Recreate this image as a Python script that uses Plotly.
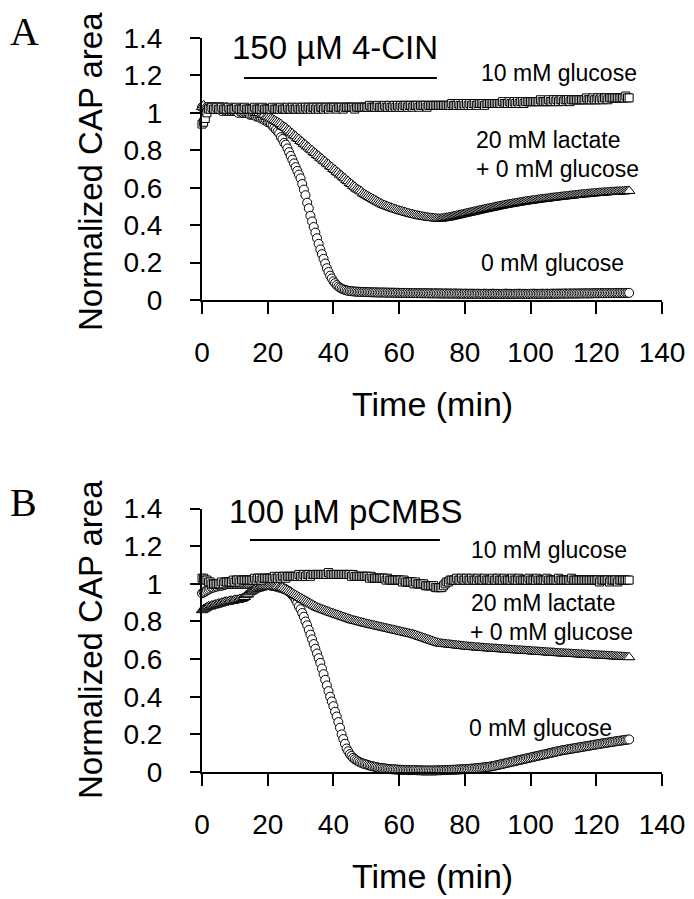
import plotly.graph_objects as go

# ---------------- data (normalized CAP area, sampled every 0.5 min) ----------------
time_min = [i * 0.5 for i in range(261)]  # 0 ... 130 min

# Panel A: 150 uM 4-CIN
glucose10_a = [
    0.94, 0.95, 0.97, 1.00, 1.02, 1.02, 1.03, 1.02, 1.02, 1.03,
    1.02, 1.02, 1.03, 1.02, 1.02, 1.02, 1.03, 1.02, 1.02, 1.02,
    1.02, 1.03, 1.02, 1.02, 1.02, 1.02, 1.03, 1.02, 1.02, 1.02,
    1.02, 1.02, 1.03, 1.02, 1.02, 1.02, 1.02, 1.03, 1.02, 1.02,
    1.02, 1.02, 1.02, 1.03, 1.02, 1.02, 1.02, 1.02, 1.03, 1.02,
    1.02, 1.02, 1.03, 1.02, 1.02, 1.03, 1.02, 1.02, 1.03, 1.02,
    1.02, 1.03, 1.02, 1.03, 1.02, 1.03, 1.02, 1.03, 1.03, 1.02,
    1.03, 1.02, 1.03, 1.03, 1.02, 1.03, 1.03, 1.02, 1.03, 1.03,
    1.03, 1.03, 1.02, 1.03, 1.03, 1.03, 1.02, 1.03, 1.03, 1.03,
    1.03, 1.03, 1.03, 1.02, 1.03, 1.03, 1.03, 1.03, 1.03, 1.03,
    1.03, 1.03, 1.04, 1.03, 1.03, 1.03, 1.03, 1.04, 1.03, 1.03,
    1.03, 1.04, 1.03, 1.03, 1.04, 1.03, 1.03, 1.04, 1.03, 1.04,
    1.03, 1.04, 1.03, 1.04, 1.04, 1.03, 1.04, 1.04, 1.03, 1.04,
    1.04, 1.04, 1.03, 1.04, 1.04, 1.04, 1.04, 1.03, 1.04, 1.04,
    1.04, 1.04, 1.04, 1.04, 1.04, 1.04, 1.04, 1.04, 1.04, 1.04,
    1.04, 1.04, 1.05, 1.04, 1.04, 1.04, 1.05, 1.04, 1.04, 1.05,
    1.04, 1.05, 1.04, 1.05, 1.04, 1.05, 1.05, 1.04, 1.05, 1.05,
    1.05, 1.05, 1.04, 1.05, 1.05, 1.05, 1.05, 1.05, 1.05, 1.05,
    1.05, 1.05, 1.05, 1.06, 1.05, 1.05, 1.05, 1.06, 1.05, 1.05,
    1.06, 1.05, 1.06, 1.05, 1.06, 1.06, 1.05, 1.06, 1.06, 1.06,
    1.06, 1.06, 1.06, 1.06, 1.06, 1.06, 1.07, 1.06, 1.06, 1.06,
    1.06, 1.07, 1.06, 1.06, 1.07, 1.06, 1.07, 1.06, 1.07, 1.07,
    1.06, 1.07, 1.07, 1.07, 1.06, 1.07, 1.07, 1.07, 1.07, 1.07,
    1.07, 1.07, 1.07, 1.07, 1.08, 1.07, 1.07, 1.07, 1.08, 1.07,
    1.07, 1.08, 1.07, 1.08, 1.07, 1.08, 1.08, 1.07, 1.08, 1.08,
    1.08, 1.08, 1.08, 1.08, 1.08, 1.08, 1.08, 1.08, 1.09, 1.08,
    1.08,
]

glucose0_a = [
    1.03, 1.03, 1.03, 1.02, 1.03, 1.02, 1.02, 1.02, 1.02, 1.02,
    1.02, 1.02, 1.01, 1.02, 1.01, 1.01, 1.01, 1.01, 1.01, 1.01,
    1.01, 1.01, 1.00, 1.01, 1.00, 1.00, 1.00, 1.00, 1.00, 0.99,
    0.99, 0.99, 0.99, 0.98, 0.98, 0.98, 0.97, 0.97, 0.96, 0.96,
    0.95, 0.95, 0.94, 0.93, 0.92, 0.91, 0.90, 0.89, 0.87, 0.86,
    0.84, 0.83, 0.81, 0.79, 0.77, 0.75, 0.73, 0.71, 0.69, 0.67,
    0.65, 0.62, 0.59, 0.56, 0.52, 0.49, 0.45, 0.42, 0.39, 0.36,
    0.33, 0.30, 0.27, 0.245, 0.22, 0.195, 0.17, 0.15, 0.13, 0.115,
    0.10, 0.09, 0.08, 0.072, 0.066, 0.061, 0.057, 0.054, 0.051, 0.049,
    0.048, 0.047, 0.046, 0.045, 0.045, 0.044, 0.044, 0.043, 0.043, 0.043,
    0.042, 0.042, 0.042, 0.041, 0.041, 0.041, 0.041, 0.040, 0.040, 0.040,
    0.040, 0.040, 0.039, 0.040, 0.039, 0.039, 0.039, 0.039, 0.038, 0.039,
    0.038, 0.038, 0.038, 0.038, 0.037, 0.038, 0.037, 0.037, 0.037, 0.037,
    0.037, 0.036, 0.037, 0.036, 0.036, 0.036, 0.036, 0.036, 0.035, 0.036,
    0.035, 0.035, 0.036, 0.035, 0.035, 0.035, 0.035, 0.034, 0.035, 0.035,
    0.034, 0.035, 0.034, 0.034, 0.035, 0.034, 0.034, 0.034, 0.034, 0.033,
    0.034, 0.034, 0.033, 0.034, 0.033, 0.034, 0.033, 0.033, 0.034, 0.033,
    0.033, 0.033, 0.034, 0.033, 0.033, 0.033, 0.033, 0.034, 0.033, 0.033,
    0.033, 0.033, 0.032, 0.033, 0.033, 0.034, 0.033, 0.033, 0.033, 0.032,
    0.033, 0.033, 0.033, 0.034, 0.033, 0.033, 0.033, 0.033, 0.032, 0.033,
    0.033, 0.033, 0.034, 0.033, 0.033, 0.033, 0.033, 0.034, 0.033, 0.033,
    0.034, 0.033, 0.033, 0.034, 0.034, 0.033, 0.034, 0.034, 0.034, 0.034,
    0.034, 0.035, 0.034, 0.034, 0.035, 0.034, 0.035, 0.035, 0.034, 0.035,
    0.035, 0.035, 0.035, 0.036, 0.035, 0.035, 0.036, 0.035, 0.036, 0.036,
    0.036, 0.036, 0.036, 0.037, 0.036, 0.036, 0.037, 0.037, 0.036, 0.037,
    0.037, 0.037, 0.038, 0.037, 0.037, 0.038, 0.038, 0.037, 0.038, 0.038,
    0.038,
]

lactate20_a = [
    1.03, 1.04, 1.03, 1.03, 1.03, 1.03, 1.03, 1.03, 1.03, 1.03,
    1.03, 1.03, 1.03, 1.03, 1.02, 1.03, 1.02, 1.02, 1.02, 1.02,
    1.02, 1.02, 1.02, 1.02, 1.02, 1.01, 1.02, 1.01, 1.01, 1.01,
    1.01, 1.01, 1.01, 1.00, 1.00, 1.00, 0.99, 0.99, 0.99, 0.98,
    0.98, 0.975, 0.97, 0.965, 0.96, 0.955, 0.95, 0.945, 0.94, 0.93,
    0.925, 0.92, 0.91, 0.905, 0.895, 0.89, 0.88, 0.875, 0.865, 0.86,
    0.85, 0.845, 0.835, 0.83, 0.82, 0.815, 0.805, 0.80, 0.79, 0.785,
    0.775, 0.77, 0.76, 0.755, 0.745, 0.74, 0.73, 0.725, 0.715, 0.71,
    0.70, 0.695, 0.685, 0.68, 0.67, 0.665, 0.655, 0.65, 0.64, 0.635,
    0.625, 0.62, 0.61, 0.605, 0.595, 0.59, 0.585, 0.58, 0.57, 0.565,
    0.56, 0.555, 0.55, 0.545, 0.54, 0.535, 0.53, 0.525, 0.52, 0.515,
    0.51, 0.507, 0.503, 0.50, 0.497, 0.493, 0.49, 0.487, 0.484, 0.481,
    0.478, 0.475, 0.473, 0.47, 0.468, 0.465, 0.463, 0.46, 0.458, 0.456,
    0.454, 0.452, 0.45, 0.448, 0.446, 0.445, 0.443, 0.442, 0.44, 0.439,
    0.438, 0.437, 0.436, 0.435, 0.435, 0.434, 0.436, 0.437, 0.438, 0.44,
    0.441, 0.443, 0.445, 0.447, 0.449, 0.451, 0.453, 0.455, 0.457, 0.459,
    0.461, 0.463, 0.465, 0.467, 0.469, 0.471, 0.473, 0.475, 0.477, 0.479,
    0.481, 0.483, 0.485, 0.487, 0.489, 0.49, 0.492, 0.494, 0.496, 0.498,
    0.50, 0.502, 0.503, 0.505, 0.507, 0.508, 0.51, 0.512, 0.513, 0.515,
    0.516, 0.518, 0.519, 0.521, 0.522, 0.524, 0.525, 0.527, 0.528, 0.529,
    0.53, 0.532, 0.533, 0.534, 0.535, 0.537, 0.538, 0.539, 0.54, 0.541,
    0.542, 0.543, 0.545, 0.546, 0.547, 0.548, 0.549, 0.55, 0.551, 0.552,
    0.553, 0.554, 0.555, 0.556, 0.557, 0.558, 0.559, 0.56, 0.561, 0.562,
    0.563, 0.564, 0.565, 0.565, 0.566, 0.567, 0.568, 0.569, 0.57, 0.57,
    0.571, 0.572, 0.573, 0.573, 0.574, 0.575, 0.575, 0.576, 0.577, 0.577,
    0.578, 0.578, 0.579, 0.579, 0.58, 0.58, 0.581, 0.581, 0.582, 0.582,
    0.583,
]

# Panel B: 100 uM pCMBS
glucose10_b = [
    1.03, 1.03, 1.02, 1.02, 1.01, 1.01, 1.00, 1.00, 1.00, 1.00,
    1.00, 1.00, 1.01, 1.00, 1.01, 1.01, 1.01, 1.01, 1.01, 1.02,
    1.01, 1.02, 1.02, 1.01, 1.02, 1.02, 1.02, 1.02, 1.02, 1.02,
    1.02, 1.02, 1.03, 1.02, 1.03, 1.03, 1.02, 1.03, 1.03, 1.03,
    1.03, 1.03, 1.03, 1.03, 1.04, 1.03, 1.03, 1.04, 1.03, 1.04,
    1.04, 1.03, 1.04, 1.04, 1.04, 1.04, 1.04, 1.04, 1.04, 1.05,
    1.04, 1.04, 1.05, 1.04, 1.05, 1.05, 1.04, 1.05, 1.05, 1.05,
    1.05, 1.05, 1.05, 1.05, 1.05, 1.05, 1.05, 1.06, 1.05, 1.05,
    1.05, 1.05, 1.05, 1.05, 1.05, 1.05, 1.05, 1.05, 1.05, 1.05,
    1.05, 1.04, 1.05, 1.04, 1.04, 1.04, 1.04, 1.04, 1.04, 1.04,
    1.04, 1.04, 1.03, 1.04, 1.03, 1.03, 1.03, 1.03, 1.03, 1.03,
    1.03, 1.03, 1.02, 1.03, 1.02, 1.02, 1.02, 1.02, 1.02, 1.02,
    1.02, 1.02, 1.01, 1.02, 1.01, 1.01, 1.01, 1.01, 1.01, 1.00,
    1.01, 1.00, 1.00, 1.00, 1.00, 1.00, 0.99, 0.99, 0.99, 0.99,
    0.99, 0.99, 0.98, 0.98, 0.98, 0.98, 0.98, 0.99, 1.00, 1.01,
    1.01, 1.02, 1.02, 1.02, 1.02, 1.03, 1.02, 1.02, 1.03, 1.02,
    1.02, 1.03, 1.02, 1.02, 1.03, 1.02, 1.02, 1.02, 1.03, 1.02,
    1.02, 1.02, 1.03, 1.02, 1.02, 1.02, 1.02, 1.03, 1.02, 1.02,
    1.03, 1.02, 1.02, 1.02, 1.03, 1.02, 1.02, 1.02, 1.02, 1.03,
    1.02, 1.02, 1.02, 1.03, 1.02, 1.02, 1.02, 1.02, 1.02, 1.03,
    1.02, 1.02, 1.02, 1.02, 1.03, 1.02, 1.02, 1.02, 1.02, 1.02,
    1.03, 1.02, 1.02, 1.02, 1.02, 1.02, 1.02, 1.03, 1.02, 1.02,
    1.02, 1.02, 1.02, 1.02, 1.02, 1.03, 1.02, 1.02, 1.02, 1.02,
    1.02, 1.02, 1.02, 1.02, 1.02, 1.02, 1.02, 1.02, 1.02, 1.02,
    1.02, 1.02, 1.01, 1.02, 1.02, 1.02, 1.02, 1.02, 1.01, 1.02,
    1.02, 1.02, 1.02, 1.01, 1.02, 1.02, 1.02, 1.02, 1.02, 1.02,
    1.02,
]

glucose0_b = [
    0.95, 0.955, 0.96, 0.965, 0.97, 0.975, 0.98, 0.98, 0.985, 0.985,
    0.99, 0.99, 0.99, 0.995, 0.995, 1.00, 1.00, 1.00, 1.00, 1.00,
    1.00, 1.00, 1.00, 1.00, 1.00, 1.00, 1.00, 1.00, 1.00, 1.00,
    1.00, 1.00, 1.00, 1.00, 1.00, 1.00, 1.00, 1.00, 1.00, 0.995,
    0.995, 0.995, 0.99, 0.99, 0.99, 0.985, 0.985, 0.98, 0.98, 0.975,
    0.975, 0.97, 0.965, 0.96, 0.95, 0.94, 0.93, 0.915, 0.90, 0.88,
    0.865, 0.845, 0.825, 0.80, 0.78, 0.755, 0.73, 0.705, 0.68, 0.655,
    0.63, 0.605, 0.58, 0.55, 0.52, 0.49, 0.46, 0.43, 0.40, 0.375,
    0.35, 0.32, 0.295, 0.265, 0.235, 0.20, 0.175, 0.15, 0.125, 0.11,
    0.095, 0.085, 0.075, 0.068, 0.062, 0.057, 0.052, 0.048, 0.045, 0.042,
    0.04, 0.037, 0.034, 0.032, 0.03, 0.028, 0.026, 0.024, 0.022, 0.021,
    0.02, 0.019, 0.018, 0.017, 0.016, 0.015, 0.014, 0.014, 0.013, 0.013,
    0.012, 0.012, 0.011, 0.011, 0.011, 0.010, 0.010, 0.010, 0.010, 0.010,
    0.010, 0.009, 0.009, 0.009, 0.008, 0.008, 0.008, 0.008, 0.008, 0.008,
    0.008, 0.008, 0.008, 0.009, 0.009, 0.009, 0.010, 0.010, 0.010, 0.011,
    0.011, 0.011, 0.012, 0.012, 0.012, 0.013, 0.013, 0.014, 0.014, 0.015,
    0.015, 0.016, 0.016, 0.017, 0.018, 0.018, 0.019, 0.020, 0.021, 0.022,
    0.023, 0.024, 0.025, 0.026, 0.027, 0.028, 0.030, 0.031, 0.033, 0.035,
    0.037, 0.039, 0.041, 0.043, 0.045, 0.047, 0.049, 0.051, 0.053, 0.055,
    0.057, 0.059, 0.061, 0.063, 0.065, 0.067, 0.069, 0.071, 0.073, 0.075,
    0.077, 0.079, 0.081, 0.083, 0.085, 0.087, 0.089, 0.091, 0.093, 0.095,
    0.097, 0.099, 0.101, 0.103, 0.105, 0.107, 0.109, 0.111, 0.113, 0.115,
    0.116, 0.118, 0.119, 0.121, 0.122, 0.124, 0.125, 0.127, 0.128, 0.13,
    0.131, 0.133, 0.134, 0.136, 0.137, 0.139, 0.14, 0.142, 0.143, 0.145,
    0.146, 0.148, 0.149, 0.151, 0.152, 0.154, 0.155, 0.156, 0.158, 0.159,
    0.16, 0.162, 0.163, 0.165, 0.166, 0.167, 0.168, 0.17, 0.171, 0.172,
    0.173,
]

lactate20_b = [
    0.86, 0.865, 0.87, 0.875, 0.88, 0.88, 0.885, 0.885, 0.89, 0.89,
    0.895, 0.895, 0.90, 0.90, 0.905, 0.905, 0.905, 0.91, 0.91, 0.91,
    0.915, 0.915, 0.915, 0.92, 0.92, 0.925, 0.93, 0.94, 0.945, 0.955,
    0.96, 0.965, 0.97, 0.975, 0.975, 0.98, 0.98, 0.985, 0.985, 0.985,
    0.985, 0.985, 0.985, 0.985, 0.985, 0.985, 0.985, 0.98, 0.98, 0.98,
    0.975, 0.97, 0.965, 0.96, 0.955, 0.95, 0.945, 0.94, 0.935, 0.93,
    0.925, 0.92, 0.915, 0.91, 0.905, 0.90, 0.895, 0.89, 0.885, 0.88,
    0.875, 0.872, 0.868, 0.865, 0.862, 0.858, 0.855, 0.852, 0.848, 0.845,
    0.842, 0.839, 0.836, 0.833, 0.83, 0.827, 0.824, 0.821, 0.818, 0.815,
    0.812, 0.809, 0.806, 0.804, 0.802, 0.80, 0.797, 0.795, 0.793, 0.79,
    0.788, 0.786, 0.784, 0.782, 0.78, 0.778, 0.776, 0.774, 0.772, 0.77,
    0.768, 0.766, 0.764, 0.762, 0.76, 0.758, 0.756, 0.754, 0.752, 0.75,
    0.748, 0.746, 0.744, 0.742, 0.74, 0.738, 0.736, 0.734, 0.732, 0.73,
    0.727, 0.724, 0.721, 0.718, 0.715, 0.712, 0.709, 0.706, 0.703, 0.70,
    0.697, 0.694, 0.691, 0.688, 0.685, 0.683, 0.682, 0.681, 0.68, 0.679,
    0.678, 0.677, 0.676, 0.675, 0.674, 0.673, 0.672, 0.671, 0.67, 0.669,
    0.668, 0.667, 0.666, 0.665, 0.665, 0.664, 0.663, 0.662, 0.662, 0.661,
    0.66, 0.66, 0.659, 0.658, 0.658, 0.657, 0.656, 0.656, 0.655, 0.655,
    0.654, 0.653, 0.653, 0.652, 0.652, 0.651, 0.65, 0.65, 0.649, 0.649,
    0.648, 0.647, 0.647, 0.646, 0.646, 0.645, 0.644, 0.644, 0.643, 0.643,
    0.642, 0.641, 0.641, 0.64, 0.64, 0.639, 0.638, 0.638, 0.637, 0.637,
    0.636, 0.635, 0.635, 0.634, 0.634, 0.633, 0.632, 0.632, 0.631, 0.631,
    0.63, 0.63, 0.629, 0.629, 0.628, 0.628, 0.627, 0.627, 0.626, 0.626,
    0.625, 0.625, 0.624, 0.624, 0.623, 0.623, 0.622, 0.622, 0.621, 0.621,
    0.62, 0.62, 0.619, 0.619, 0.618, 0.618, 0.617, 0.617, 0.616, 0.616,
    0.615, 0.615, 0.614, 0.614, 0.613, 0.613, 0.612, 0.612, 0.611, 0.611,
    0.61,
]

x_ticks = [0, 20, 40, 60, 80, 100, 120, 140]
y_ticks = [0, 0.2, 0.4, 0.6, 0.8, 1.0, 1.2, 1.4]
y_tick_text = ["0", "0.2", "0.4", "0.6", "0.8", "1", "1.2", "1.4"]

drug_a = "150 \u00b5M 4-CIN"
drug_b = "100 \u00b5M pCMBS"
drug_period_a = [12.8, 71.5]
drug_period_b = [14.6, 72.4]
drug_bar_y_a = 1.186
drug_bar_y_b = 1.233

# ---------------- layout geometry (window pixels) ----------------
# The page body has an 8 px default margin, so the figure sits at (8, 8).
OFF = 8
WIN_W, WIN_H = 694, 899
W, H = WIN_W - OFF, WIN_H - OFF
PL, PR, PT, PB = 202, 662, 38, 772      # plot area in window pixels
A_BOTTOM_PX = 300
B_TOP_PX = 508.6

def fx(px):
    return (px - PL) / (PR - PL)

def fy(py):
    return (PB - py) / (PB - PT)

SANS = "Liberation Sans, Arial, Helvetica, sans-serif"
SERIF = "Liberation Serif, Times New Roman, serif"

fig = go.Figure()

def add_panel(xa, ya, circles, triangles, squares):
    common = dict(x=time_min, mode="markers", xaxis=xa, yaxis=ya,
                  cliponaxis=False, hoverinfo="skip", showlegend=False)
    fig.add_trace(go.Scatter(y=circles, marker=dict(symbol="circle", size=9, color="white",
                                                    line=dict(color="black", width=1)), **common))
    fig.add_trace(go.Scatter(y=triangles, marker=dict(symbol="triangle-up", size=10, color="white",
                                                      line=dict(color="black", width=1)), **common))
    fig.add_trace(go.Scatter(y=squares, marker=dict(symbol="square", size=8, color="white",
                                                    line=dict(color="black", width=1)), **common))

add_panel("x", "y", glucose0_a, lactate20_a, glucose10_a)
add_panel("x2", "y2", glucose0_b, lactate20_b, glucose10_b)

xax = dict(range=[0, 140], tickvals=x_ticks, showline=True, linewidth=2, linecolor="black",
           ticks="outside", ticklen=12, tickwidth=2, tickcolor="black", showgrid=False,
           zeroline=False, tickfont=dict(family=SANS, size=28, color="black"),
           ticklabelstandoff=14, automargin=False, fixedrange=True)
yax = dict(range=[0, 1.4], tickvals=y_ticks, ticktext=y_tick_text, showline=True, linewidth=2,
           linecolor="black", ticks="outside", ticklen=10, tickwidth=2, tickcolor="black",
           showgrid=False, zeroline=False, tickfont=dict(family=SANS, size=28, color="black"),
           ticklabelstandoff=22, automargin=False, fixedrange=True)

fig.update_layout(
    width=W, height=H,
    margin=dict(l=PL - OFF, r=W - (PR - OFF), t=PT - OFF, b=H - (PB - OFF), pad=0),
    paper_bgcolor="white", plot_bgcolor="white",
    xaxis=dict(xax, domain=[0, 1], anchor="y"),
    yaxis=dict(yax, domain=[fy(A_BOTTOM_PX), 1], anchor="x"),
    xaxis2=dict(xax, domain=[0, 1], anchor="y2"),
    yaxis2=dict(yax, domain=[0, fy(B_TOP_PX)], anchor="x2"),
)

# drug application bars
fig.add_shape(type="line", xref="x", yref="y", x0=drug_period_a[0], x1=drug_period_a[1],
              y0=drug_bar_y_a, y1=drug_bar_y_a, line=dict(color="black", width=2))
fig.add_shape(type="line", xref="x2", yref="y2", x0=drug_period_b[0], x1=drug_period_b[1],
              y0=drug_bar_y_b, y1=drug_bar_y_b, line=dict(color="black", width=2))

def txt(text, px, py, size, xanchor="left", family=SANS, angle=0):
    fig.add_annotation(text=text, x=fx(px), y=fy(py), xref="paper", yref="paper",
                       xanchor=xanchor, yanchor="middle", showarrow=False, textangle=angle,
                       font=dict(family=family, size=size, color="black"), borderpad=0)

# panel letters
txt("A", 24, 32, 40, xanchor="center", family=SERIF)
txt("B", 23, 502, 40, xanchor="center", family=SERIF)

# drug labels
txt(drug_a, 231, 47, 33)
txt(drug_b, 228, 511, 33)

# condition labels panel A
txt("10 mM glucose", 480, 73, 23)
txt("20 mM lactate", 475, 140, 23)
txt("+ 0 mM glucose", 475, 169, 23)
txt("0 mM glucose", 480, 263, 23)

# condition labels panel B
txt("10 mM glucose", 470, 550, 23)
txt("20 mM lactate", 470, 603, 23)
txt("+ 0 mM glucose", 469, 632, 23)
txt("0 mM glucose", 468, 728, 23)

# axis titles
txt("Time (min)", 432, 404, 34, xanchor="center")
txt("Time (min)", 432, 876, 34, xanchor="center")
txt("Normalized CAP area", 90, 172, 33, xanchor="center", angle=-90)
txt("Normalized CAP area", 90, 640, 33, xanchor="center", angle=-90)

fig.write_html("out.html")
